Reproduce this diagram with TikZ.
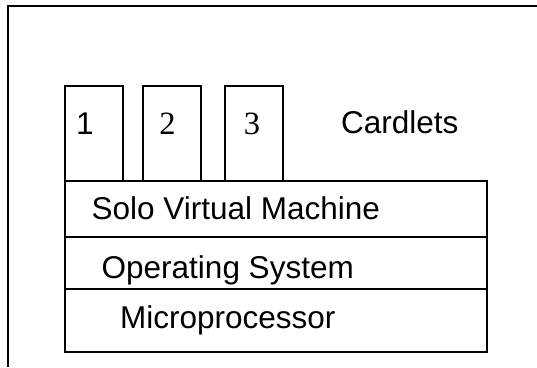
\documentclass[tikz,border=0pt]{standalone}
\usepackage{fontspec}
\setmainfont{Liberation Sans}
\newfontfamily\timesdigits{Liberation Serif}
\usetikzlibrary{positioning}
\tikzstyle{layer} = [
  rectangle, draw, line width = 2pt, minimum width = 422pt,
  inner sep = 0pt, outer sep = 0pt
]
\tikzstyle{cardlet} = [
  rectangle, draw, line width = 2pt, minimum width = 58.5pt,
  minimum height = 95pt, inner sep = 0pt, outer sep = 0pt
]
\tikzstyle{lbl} = [font = \fontsize{31.5}{36}\selectfont, inner sep = 0pt]
\tikzstyle{digit} = [font = \timesdigits\fontsize{32.5}{36}\selectfont, inner sep = 0pt]

\begin{document}
\begin{tikzpicture}[x=1pt, y=-1pt]
    \useasboundingbox (0,0) rectangle (537,367);
    % frame round the whole card, only two sides show
    \coordinate (frameright) at (537,6);
    \coordinate (framecorner) at (7.5,6);
    \coordinate (framebottom) at (7.5,367);
    \draw[line width=2pt] (frameright) -- (framecorner) -- (framebottom);

    \node[layer, minimum height=56pt, anchor=north west] (svm) at (64.5,181) {};
    \node[layer, minimum height=52pt, below=0pt of svm] (os) {};
    \node[layer, minimum height=62.5pt, below=0pt of os] (micro) {};

    \node[cardlet, anchor=south west] (card1) at (svm.north west) {};
    \node[cardlet, right=19.5pt of card1] (card2) {};
    \node[cardlet, right=23.5pt of card2] (card3) {};

    \node[lbl, anchor=base] (one) at (85,134.5) {1};
    \node[digit, anchor=base] (two) at (167.5,134) {2};
    \node[digit, anchor=base] (three) at (252,134) {3};
    \node[lbl, anchor=base west] (cardlets) at (341,133) {Cardlets};

    \node[lbl, anchor=base west] (svmtext) at (91.5,219) {Solo Virtual Machine};
    \node[lbl, anchor=base west] (ostext) at (101.5,278) {Operating System};
    \node[lbl, anchor=base west] (microtext) at (120,328) {Microprocessor};
\end{tikzpicture}
\end{document}
